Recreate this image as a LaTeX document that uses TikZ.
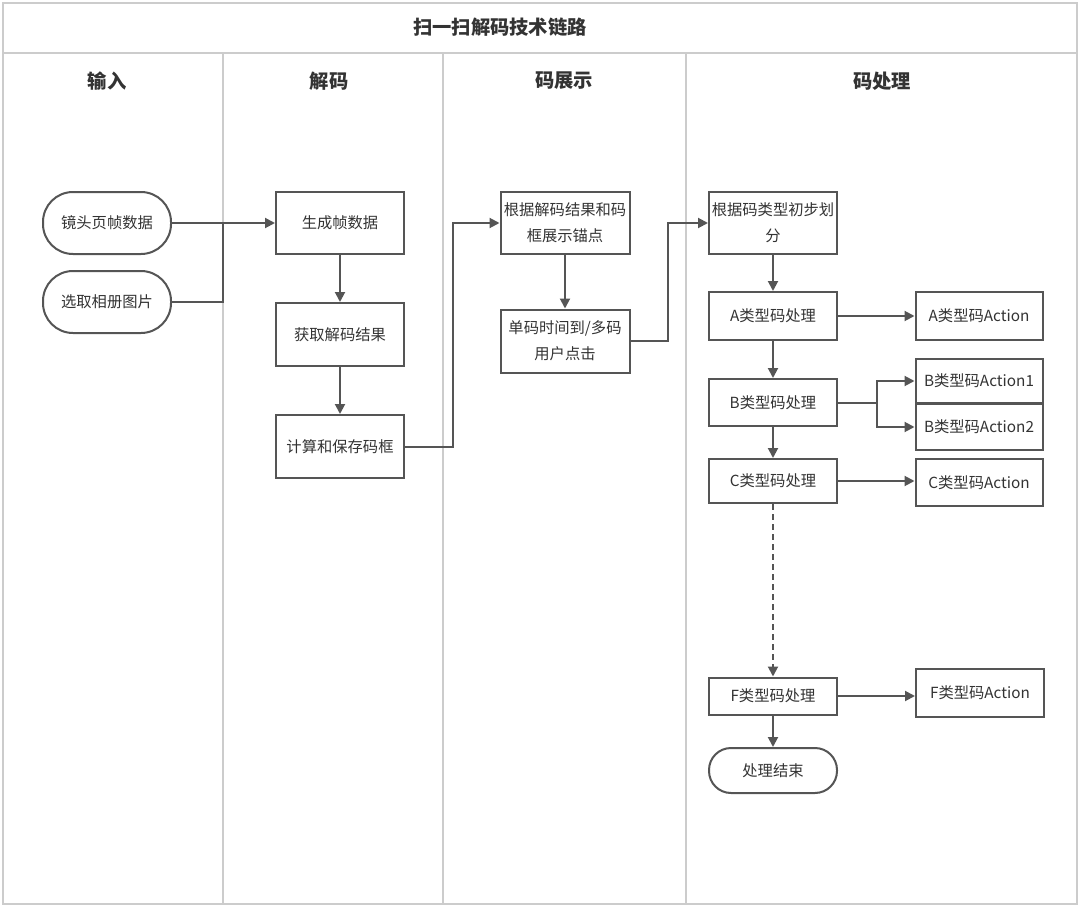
\documentclass[tikz,border=0pt]{standalone}
\usepackage{fontspec}
\setmainfont{Noto Sans CJK SC}
\usetikzlibrary{arrows.meta}
\definecolor{lanec}{HTML}{CCCCCC}
\definecolor{ink}{HTML}{555555}
\definecolor{txt}{HTML}{333333}
\tikzset{
  box/.style={draw=ink, line width=2pt, fill=white, minimum width=128pt, minimum height=62pt,
    font=\fontsize{15.3}{26}\selectfont, text=txt, align=center, inner sep=1pt},
  stadium/.style={box, rounded corners=30pt},
  conn/.style={draw=ink, line width=2pt},
  arr/.style={conn, -{Triangle[length=10pt,width=10pt]}},
  lanel/.style={draw=lanec, line width=1.8pt},
  head/.style={font=\fontsize{19.3}{21}\selectfont\bfseries, text=txt},
}
\begin{document}
\begin{tikzpicture}[x=1pt,y=-1pt]
\useasboundingbox (0,0) rectangle (1080,907);
% frame and lanes
\draw[lanel] (3,3) rectangle (1077,904);
\draw[lanel] (3,53) -- (1077,53);
\draw[lanel] (223,53) -- (223,904);
\draw[lanel] (443,53) -- (443,904);
\draw[lanel] (686,53) -- (686,904);
\node[head] (title) at (500,27) {扫一扫解码技术链路};
\node[head] (h1) at (107,81) {输入};
\node[head] (h2) at (329,81) {解码};
\node[head] (h3) at (564,81) {码展示};
\node[head] (h4) at (882,81) {码处理};
% nodes
\node[stadium] (cam) at (107,223) {镜头页帧数据};
\node[stadium] (album) at (107,302) {选取相册图片};
\node[box] (gen) at (340,223) {生成帧数据};
\node[box, minimum height=63pt] (get) at (340,334.5) {获取解码结果};
\node[box, minimum height=63pt] (calc) at (340,446.5) {计算和保存码框};
\node[box, minimum width=129pt] (show) at (565,223) {根据解码结果和码\\框展示锚点};
\node[box, minimum width=129pt, minimum height=63pt] (click) at (565,341) {单码时间到/多码\\用户点击};
\node[box] (cls) at (773,223) {根据码类型初步划\\分};
\node[box, minimum height=48pt] (pa) at (773,316) {A类型码处理};
\node[box, minimum width=127pt, minimum height=48pt] (aa) at (979,316) {A类型码Action};
\node[box, minimum height=47pt] (pb) at (773,402.5) {B类型码处理};
\node[box, minimum width=127pt, minimum height=44pt] (ab1) at (979,381) {B类型码Action1};
\node[box, minimum width=127pt, minimum height=46pt] (ab2) at (979,427) {B类型码Action2};
\node[box, minimum height=44pt] (pc) at (773,481) {C类型码处理};
\node[box, minimum width=127pt, minimum height=47pt] (ac) at (979,482.5) {C类型码Action};
\node[box, minimum height=37pt] (pf) at (773,696) {F类型码处理};
\node[box, minimum height=48pt] (af) at (980,693) {F类型码Action};
\node[box, minimum height=45pt, rounded corners=22pt] (end) at (773,770.5) {处理结束};
% junctions
\coordinate (j1) at (223,223);
\coordinate (k1) at (453,446.5);
\coordinate (k2) at (668,341);
\coordinate (k3) at (877,402.5);
% connectors
\draw[arr] (cam.east) -- (gen.west);
\draw[conn] (album.east) -| (j1);
\draw[arr] (gen.south) -- (get.north);
\draw[arr] (get.south) -- (calc.north);
\draw[arr] (calc.east) -- (k1) |- (show.west);
\draw[arr] (show.south) -- (click.north);
\draw[arr] (click.east) -- (k2) |- (cls.west);
\draw[arr] (cls.south) -- (pa.north);
\draw[arr] (pa.east) -- (pa.east -| aa.west);
\draw[arr] (pa.south) -- (pb.north);
\draw[conn] (pb.east) -- (k3);
\draw[arr] (k3) |- (ab1.west);
\draw[arr] (k3) |- (ab2.west);
\draw[arr] (pb.south) -- (pc.north);
\draw[arr] (pc.east) -- (pc.east -| ac.west);
\draw[arr, dashed, dash pattern=on 6pt off 4pt] (pc.south) -- (pf.north);
\draw[arr] (pf.east) -- (pf.east -| af.west);
\draw[arr] (pf.south) -- (end.north);
\end{tikzpicture}
\end{document}
